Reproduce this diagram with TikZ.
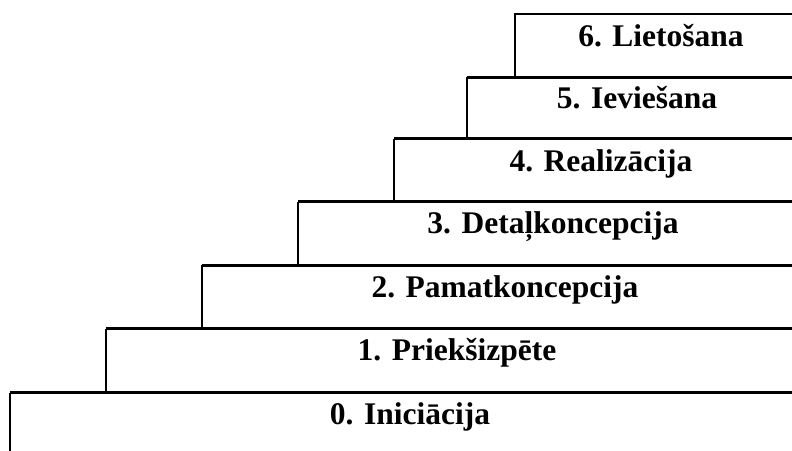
\documentclass[tikz,border=0pt]{standalone}
\usepackage{fontspec}
\setmainfont{Liberation Serif}
\begin{document}
\begin{tikzpicture}[x=1bp,y=-1bp,
  stepline/.style={line width=2.4bp},
  shared/.style={line width=3bp},
  steptext/.style={anchor=base,inner sep=0pt,font=\fontsize{31.5bp}{38bp}\selectfont\bfseries}]
\useasboundingbox (0,0) rectangle (792,451);
% step boxes: left edges and tops
\draw[stepline] (792,14) -- (515,14) -- (515,77.5);
\draw[shared] (792,77.5) -- (467,77.5);
\draw[stepline] (467,77.5) -- (467,139);
\draw[shared] (792,139) -- (394,139);
\draw[stepline] (394,139) -- (394,202);
\draw[shared] (792,202) -- (298,202);
\draw[stepline] (298,202) -- (298,265.5);
\draw[shared] (792,265.5) -- (202,265.5);
\draw[stepline] (202,265.5) -- (202,329);
\draw[shared] (792,329) -- (106,329);
\draw[stepline] (106,329) -- (106,392.5);
\draw[shared] (792,392.5) -- (10,392.5);
\draw[stepline] (10,392.5) -- (10,451);
% labels
\node[steptext] (s6) at (661,46.5) {6. Lietošana};
\node[steptext] (s5) at (637,109) {5. Ievie\v{s}ana};
\node[steptext] (s4) at (601,171.5) {4. Realizācija};
\node[steptext] (s3) at (553,234) {3. Detaļkoncepcija};
\node[steptext] (s2) at (505,297.5) {2. Pamatkoncepcija};
\node[steptext] (s1) at (457,361) {1. Priekšizpēte};
\node[steptext] (s0) at (410,424.5) {0. Iniciācija};
\end{tikzpicture}
\end{document}
